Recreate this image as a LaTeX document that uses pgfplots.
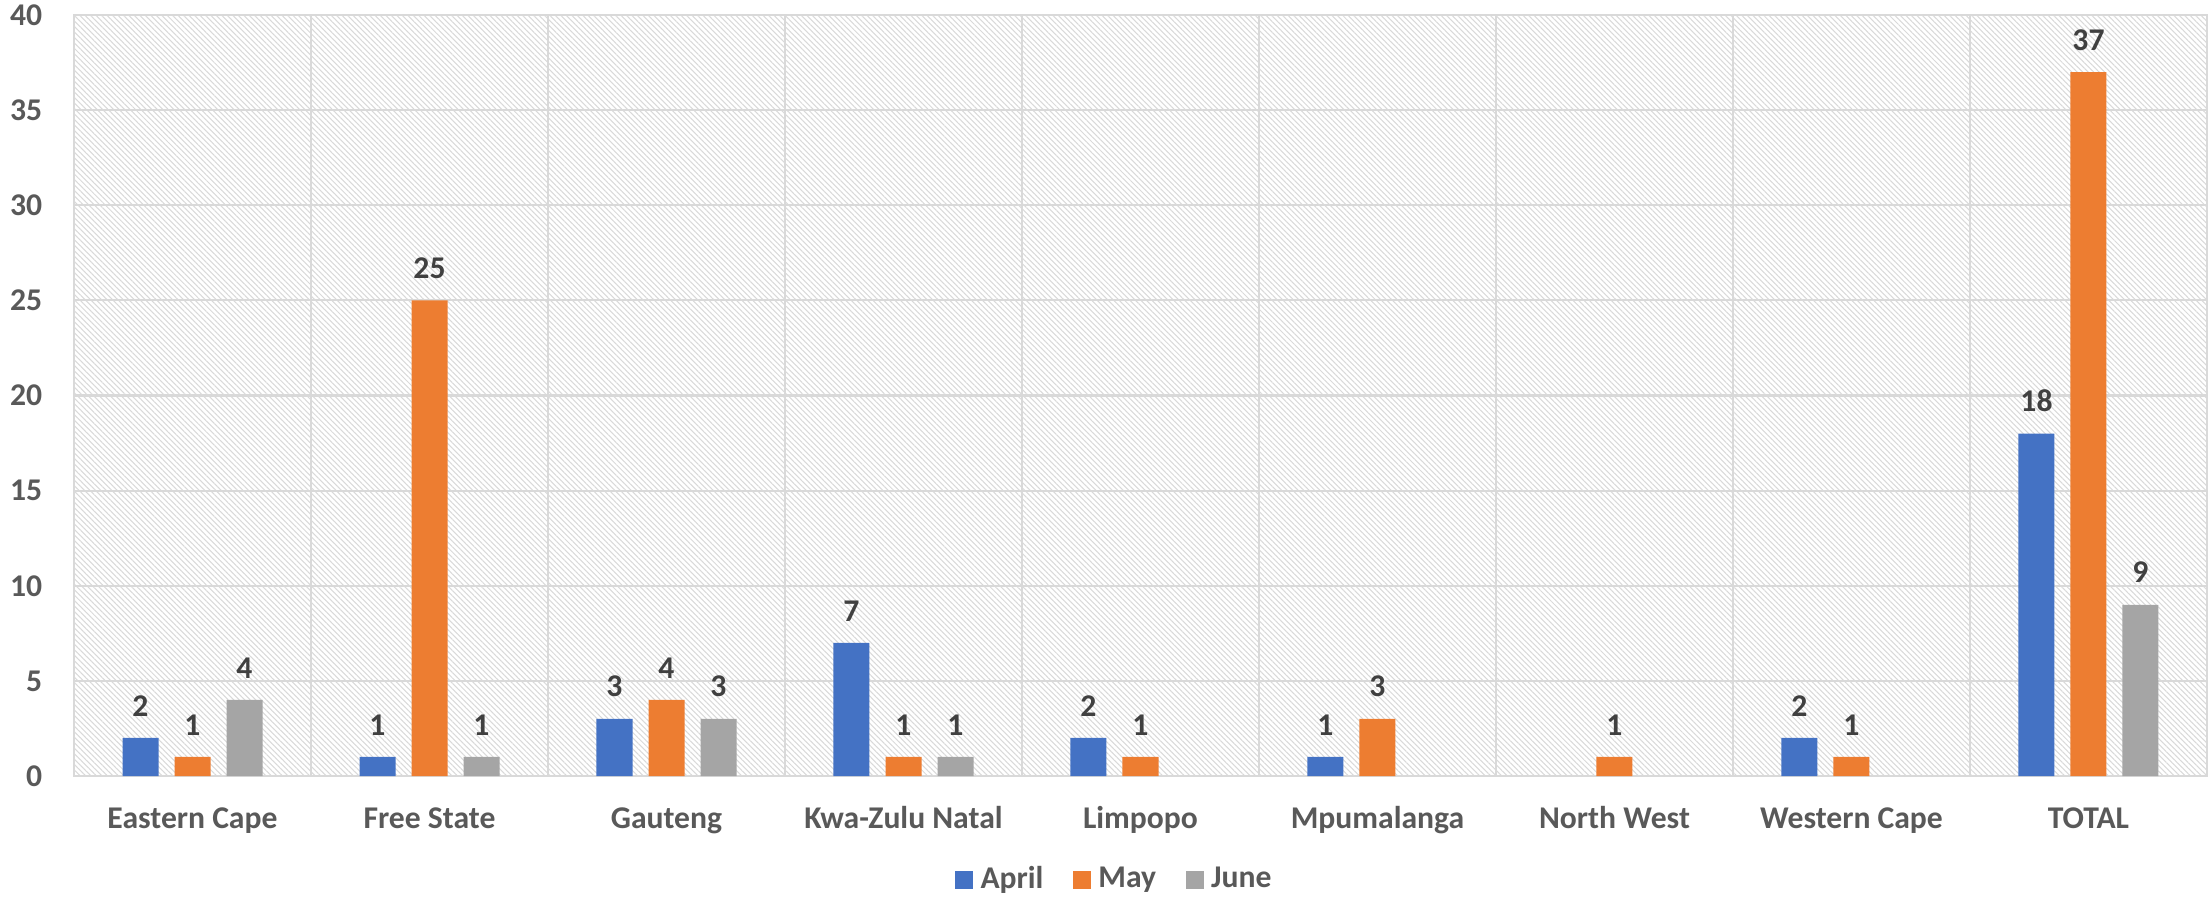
\documentclass[border=0pt]{standalone}
\usepackage{fontspec}
\setmainfont{Carlito}
\usepackage{pgfplots}
\pgfplotsset{compat=1.18}
\usetikzlibrary{patterns.meta}
\definecolor{cA}{HTML}{4472C4}
\definecolor{cM}{HTML}{ED7D31}
\definecolor{cJ}{HTML}{A5A5A5}
\definecolor{txt}{HTML}{595959}
\definecolor{lbl}{HTML}{404040}
\pgfplotsset{sq legend/.style={legend image code/.code={\fill[##1,draw=none] (0cm,-0.09cm) rectangle (0.18cm,0.09cm);}}}
\newcommand{\chartfont}{\fontsize{9}{10}\selectfont\bfseries}
\begin{document}
\begin{tikzpicture}
\useasboundingbox (0,0) rectangle (22.09,8.98);
\begin{axis}[
  at={(0.74cm,1.22cm)}, anchor=south west, scale only axis,
  width=21.33cm, height=7.61cm,
  ybar=0.16cm, bar width=0.36cm,
  xmin=-0.5, xmax=8.5, ymin=0, ymax=40,
  xtick={0,...,8},
  xticklabels={Eastern Cape, Free State, Gauteng, Kwa-Zulu Natal, Limpopo, Mpumalanga, North West, Western Cape, TOTAL},
  minor xtick={-0.5,0.5,...,8.5},
  ytick={0,5,...,40},
  xminorgrids, ymajorgrids,
  major tick length=0, minor tick length=0,
  grid style={draw=gray!30, line width=0.6pt},
  minor grid style={draw=gray!30, line width=0.6pt},
  axis line style={draw=gray!30, line width=0.6pt},
  axis background/.style={pattern={Lines[angle=-45,distance=1.1pt,line width=0.3pt]}, pattern color=gray!30},
  tick label style={font=\chartfont, text=txt},
  /pgf/number format/assume math mode=true,
  xticklabel style={anchor=base, yshift=-14.8pt},
  yticklabel style={xshift=-5.5pt},
  nodes near coords,
  every node near coord/.append style={font=\chartfont, text=lbl, anchor=south, inner sep=0pt, yshift=6pt},
  legend style={at={(0.489,-0.137)}, anchor=center, draw=none, fill=none,
    legend columns=-1, font=\chartfont, text=txt,
    /tikz/every even column/.append style={column sep=0.23cm}},
]
\addplot[fill=cA, draw=none, sq legend] coordinates {(0,2) (1,1) (2,3) (3,7) (4,2) (5,1) (7,2) (8,18)};
\addplot[fill=cM, draw=none, sq legend] coordinates {(0,1) (1,25) (2,4) (3,1) (4,1) (5,3) (6,1) (7,1) (8,37)};
\addplot[fill=cJ, draw=none, sq legend] coordinates {(0,4) (1,1) (2,3) (3,1) (8,9)};
\legend{April, May, June}
\end{axis}
\end{tikzpicture}
\end{document}
